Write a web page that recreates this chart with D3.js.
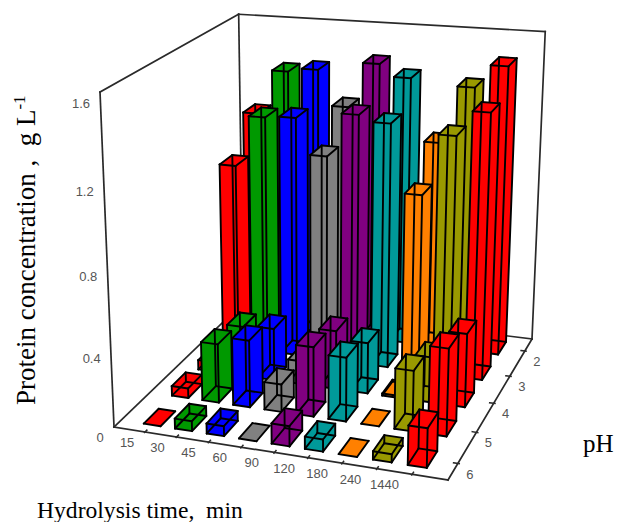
<!DOCTYPE html>
<html><head><meta charset="utf-8">
<script src="https://cdn.jsdelivr.net/npm/d3@7"></script>
<style>html,body{margin:0;background:#fff}svg{display:block}</style></head>
<body><svg id="c" width="617" height="522"></svg>
<script>
const times=["15","30","45","60","90","120","180","240","1440"];
const phs=["2","3","4","5","6"];
const colors=["#ff0000","#009900","#0000ff","#808080","#800080","#009999","#ff8000","#999900","#ff0000"];
const zTicks=[0,0.4,0.8,1.2,1.6];
const ph2=[1.15,1.38,1.40,1.22,1.45,1.39,1.075,1.365,1.48];
const ph3=[0.97,1.23,1.24,1.06,1.28,1.25,0.91,1.215,1.34];
const ph4=[0.05,0.26,0.27,0.12,0.30,0.26,0.01,0.23,0.37];
const ph5=[0.05,0.30,0.34,0.14,0.35,0.32,0.00,0.30,0.43];
const ph6=[0.00,0.05,0.05,0.00,0.10,0.06,0.00,0.04,0.19];
const rows=[ph2,ph3,ph4,ph5,ph6];

const svg=d3.select("#c");
const A=[114,427],B=[448,480],C=[532,339],D=[243,303];
const Top0=[100,92];
function homog(p0,p1,p2,p3){
 const dx1=p1[0]-p2[0],dx2=p3[0]-p2[0],sx=p0[0]-p1[0]+p2[0]-p3[0];
 const dy1=p1[1]-p2[1],dy2=p3[1]-p2[1],sy=p0[1]-p1[1]+p2[1]-p3[1];
 const det=dx1*dy2-dx2*dy1;
 const g=(sx*dy2-dx2*sy)/det,h=(dx1*sy-sx*dy1)/det;
 return [p1[0]-p0[0]+g*p1[0],p3[0]-p0[0]+h*p3[0],p0[0],
         p1[1]-p0[1]+g*p1[1],p3[1]-p0[1]+h*p3[1],p0[1],g,h,1];
}
const H=homog(A,B,C,D);
const V=[318,5312];
const zS=(A[1]-Top0[1])/(Top0[1]-V[1]);
function proj(u,v,z){
 const w=H[6]*u+H[7]*v+H[8],X=H[0]*u+H[1]*v+H[2],Y=H[3]*u+H[4]*v+H[5];
 const s=zS*z;
 return [(X+s*V[0])/(w+s),(Y+s*V[1])/(w+s)];
}
const xS=d3.scalePoint().domain(times).range([0,1]).padding(1);
const yS=d3.scalePoint().domain(phs.slice().reverse()).range([0,1]).padding(0.5);
const zLin=d3.scaleLinear().domain([0,1.6]).range([0,1]);
const line=d3.line();
const sw=xS.step()*0.27, sd=yS.step()*0.26;

const axisCol="#2a2a2a";
function seg(a,b,w){svg.append("path").attr("d",line([a,b])).attr("stroke",axisCol).attr("stroke-width",w||1.7).attr("fill","none").attr("stroke-linecap","square");}
seg(A,B);seg(B,C);seg(C,D);seg(D,A);
seg(Top0,A);seg(Top0,proj(0,1,1));seg(proj(0,1,1),proj(1,1,1));seg(proj(1,1,1),C);seg(proj(0,1,1),D);

times.forEach(t=>{seg(proj(xS(t),0.012,0),proj(xS(t),-0.004,0),1.5);});
phs.forEach(p=>{seg(proj(0.988,yS(p),0),proj(1.004,yS(p),0),1.5);});

phs.forEach((p,ri)=>{
 times.forEach((t,ci)=>{
  const val=rows[ri][ci];
  const u=xS(t),v=yS(p),z=zLin(val);
  const u0=u-sw,u1=u+sw,v0=v-sd,v1=v+sd;
  const b00=proj(u0,v0,0),b10=proj(u1,v0,0),b11=proj(u1,v1,0),b01=proj(u0,v1,0);
  const t00=proj(u0,v0,z),t10=proj(u1,v0,z),t11=proj(u1,v1,z),t01=proj(u0,v1,z);
  const g=svg.append("g");
  const faces=[[b00,b10,b11,b01],[b01,b11,t11,t01],[b00,b01,t01,t00],[b00,b10,t10,t00],[b10,b11,t11,t10],[t00,t10,t11,t01]];
  faces.forEach(f=>g.append("path").attr("d",line(f)+"Z").attr("fill",colors[ci]).attr("stroke","none"));
  const edges=val>0?[[b00,b10],[b10,b11],[b11,b01],[b01,b00],[t00,t10],[t10,t11],[t11,t01],[t01,t00],[b00,t00],[b10,t10],[b11,t11],[b01,t01]]
                   :[[b00,b10],[b10,b11],[b11,b01],[b01,b00]];
  edges.forEach(e=>g.append("path").attr("d",line(e)).attr("stroke","#000").attr("stroke-width",1.9).attr("fill","none").attr("stroke-linecap","round"));
 });
});

const lab=(x,y,s)=>svg.append("text").attr("x",x).attr("y",y).attr("font-family","Liberation Sans, Arial").attr("font-size",13).attr("fill","#555").attr("text-anchor","middle").text(s);
zTicks.forEach(z=>{
 const p=proj(0,0,zLin(z));
 lab(p[0]+(z===0?-14:-19),p[1]+(z===0?15:16),String(z));
});
times.forEach((t,i)=>{
 const p=proj(xS(t),0,0);
 lab(p[0]-18-i*1.2,p[1]+15,t);
});
phs.forEach(p=>{
 const q=proj(1,yS(p),0);
 lab(q[0]+12,q[1]+15,p);
});
const serif="Liberation Serif, Times New Roman, serif";
const yl=svg.append("text").attr("transform","translate(35,405) rotate(-90)").attr("text-anchor","start")
 .attr("font-family",serif).attr("font-size",27).attr("fill","#000").style("white-space","pre");
yl.append("tspan").text("Protein concentration ,  g L");
yl.append("tspan").attr("dy",-10).attr("font-size",17).text("-1");
svg.append("text").attr("x",37).attr("y",518).attr("font-family",serif).attr("font-size",23.6).style("white-space","pre").text("Hydrolysis time,  min");
svg.append("text").attr("x",583).attr("y",452).attr("font-family",serif).attr("font-size",25).text("pH");
</script></body></html>
